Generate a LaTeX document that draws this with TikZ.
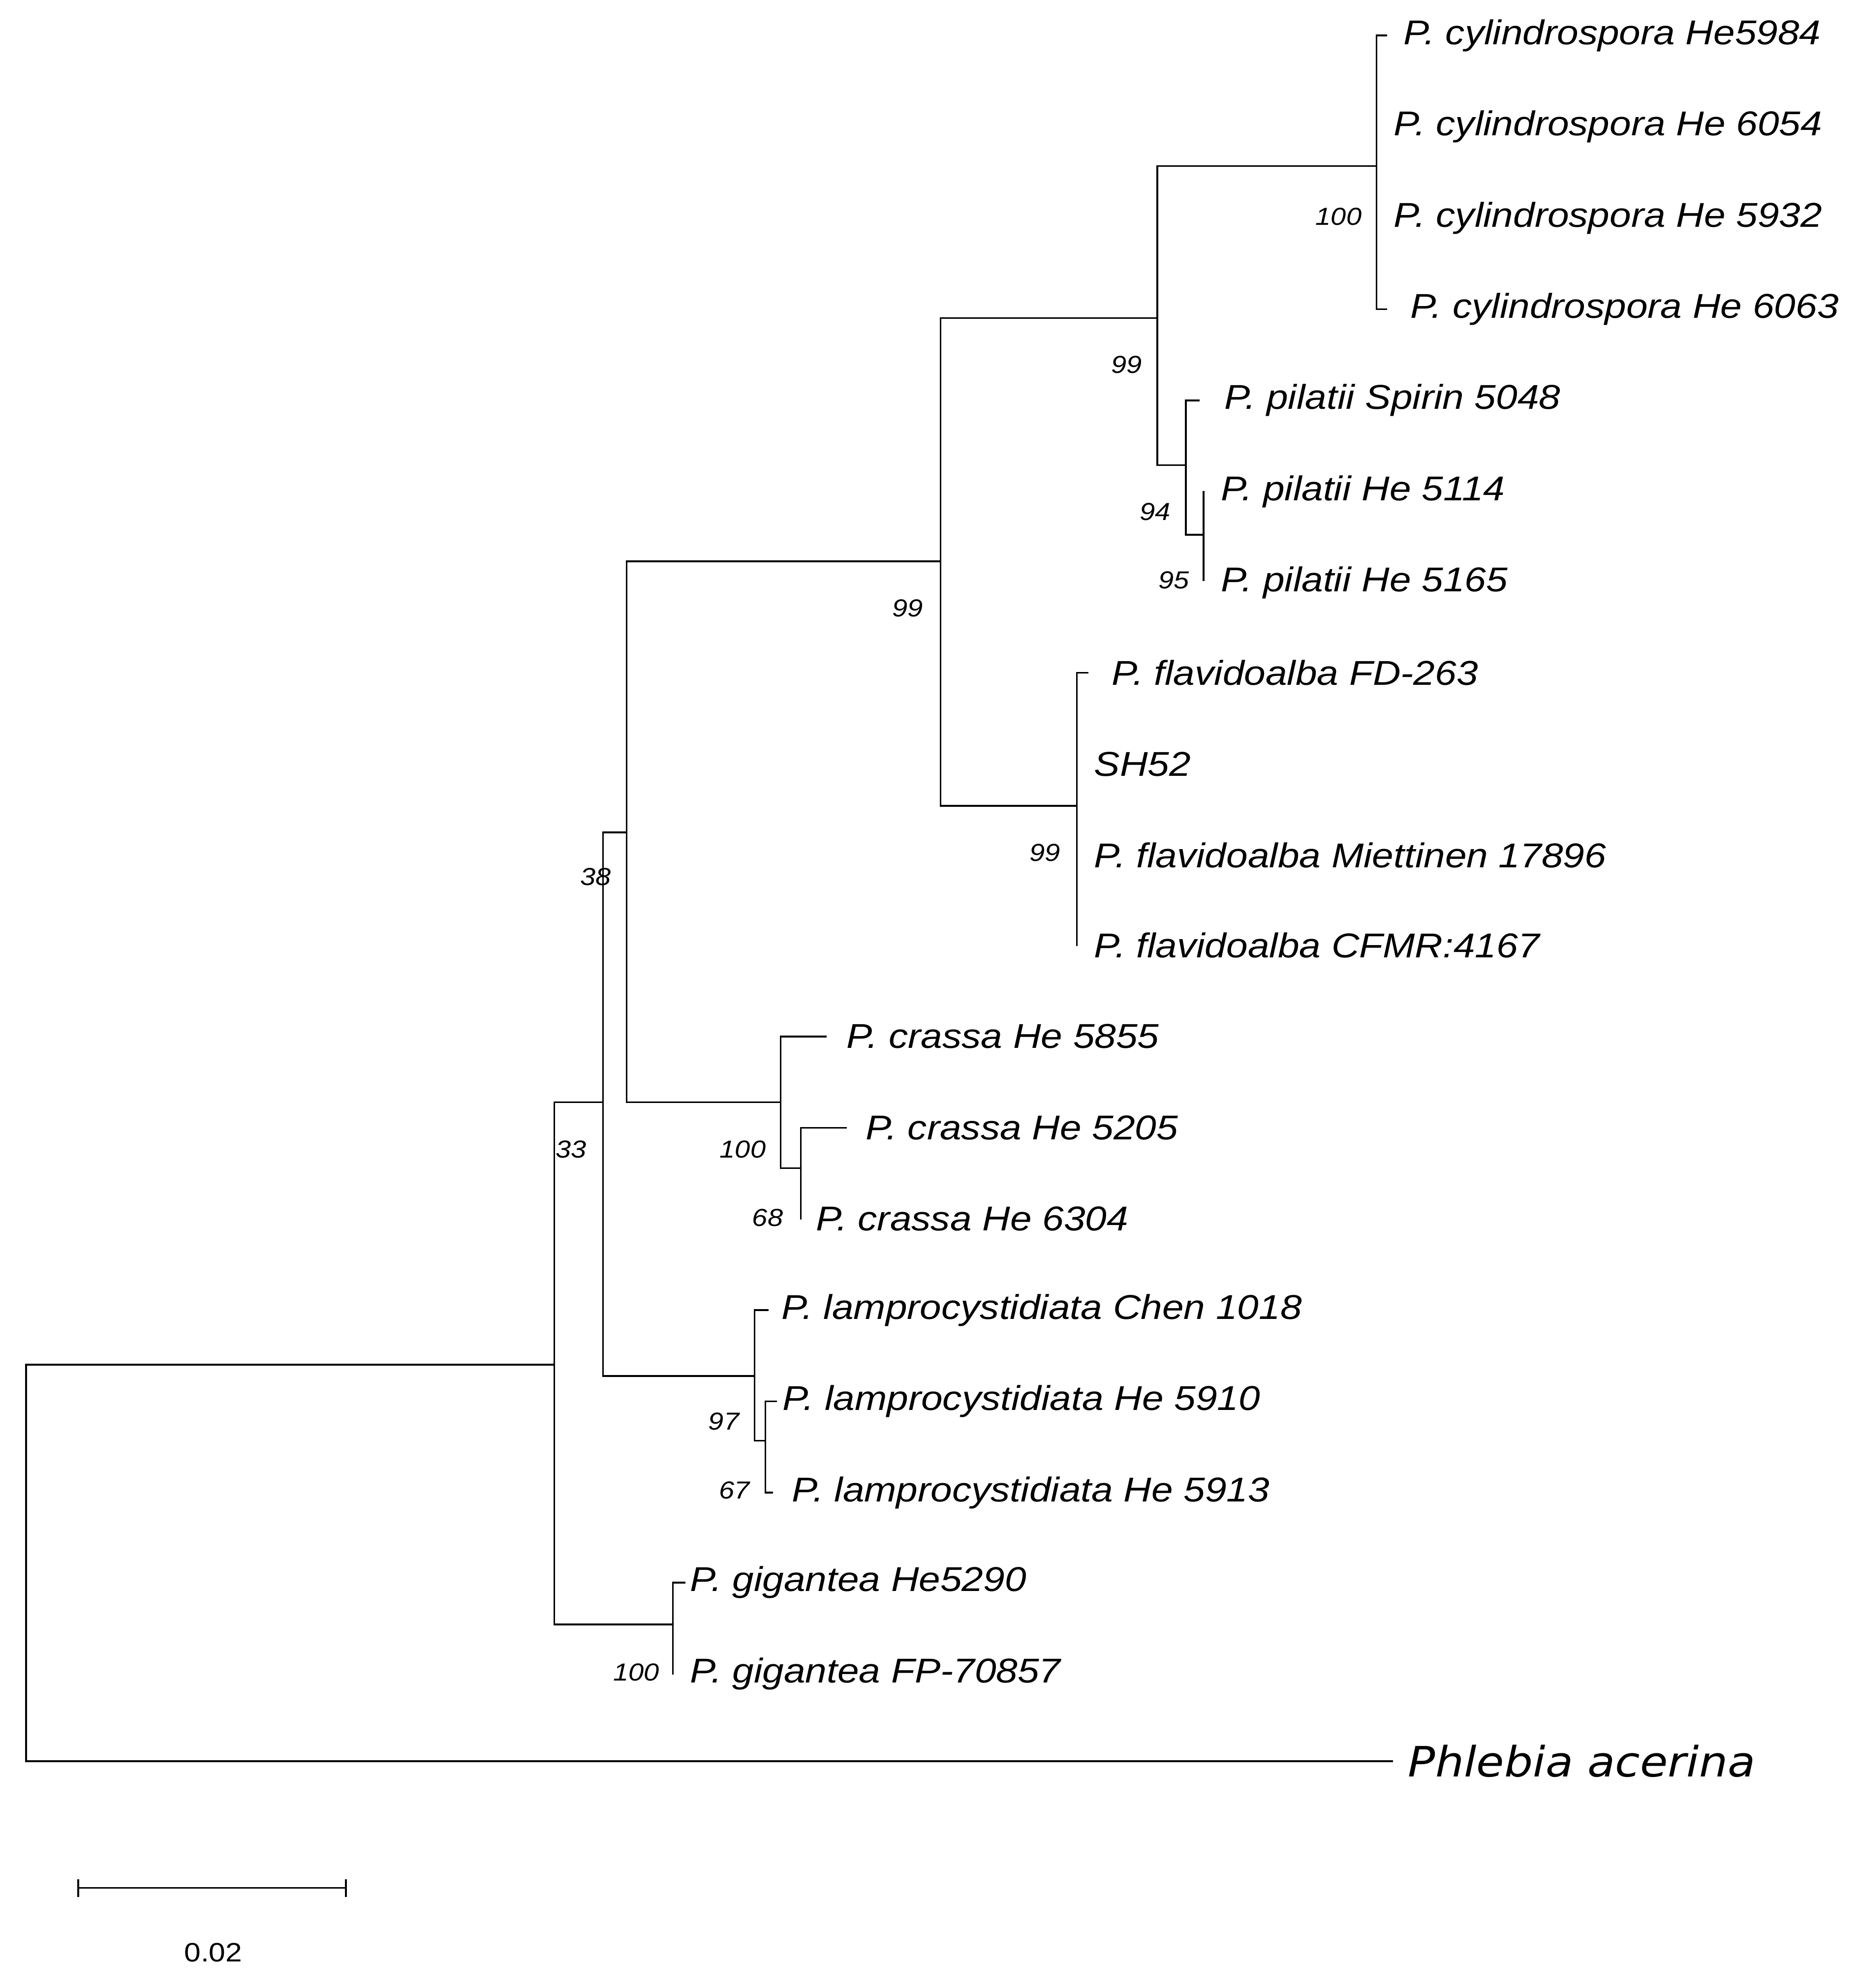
\documentclass[tikz,border=0pt]{standalone}
\usepackage{fontspec}
\setmainfont{Liberation Sans}[FakeStretch=1.12]
\newfontfamily\phfont{DejaVu Sans}[FakeStretch=1.08]
\begin{document}
\begin{tikzpicture}[x=0.24075pt,y=-0.25755pt,line width=0.34pt,
  lab/.style={anchor=west,inner sep=0,font=\fontsize{7.0}{7.5}\selectfont\itshape},
  bs/.style={inner sep=0,font=\fontsize{5.0}{5.5}\selectfont\itshape},
  br/.style={line cap=rect}]
\useasboundingbox (0,0) rectangle (1568,1569);
% internal nodes
\coordinate (R) at (22,1077);
\coordinate (A) at (468,1077);
\coordinate (G) at (568,1282);
\coordinate (B) at (509,870);
\coordinate (L) at (637,1086);
\coordinate (L2) at (646,1137);
\coordinate (C) at (529,657);
\coordinate (K) at (659,870);
\coordinate (K2) at (676,922);
\coordinate (D) at (794,443);
\coordinate (F) at (909,636);
\coordinate (E) at (977,251);
\coordinate (Y) at (1162,131);
\coordinate (P) at (1001,367);
\coordinate (P2) at (1016,422);
% leaf tips
\coordinate (t1) at (1170,28);  \coordinate (t2) at (1162,100);
\coordinate (t3) at (1162,172); \coordinate (t4) at (1170,244);
\coordinate (t5) at (1012,316); \coordinate (t6) at (1016,388);
\coordinate (t7) at (1016,458); \coordinate (t8) at (918,531);
\coordinate (t9) at (909,603);  \coordinate (t10) at (909,675);
\coordinate (t11) at (909,746); \coordinate (t12) at (697,818);
\coordinate (t13) at (714,890); \coordinate (t14) at (676,962);
\coordinate (t15) at (648,1034);\coordinate (t16) at (655,1106);
\coordinate (t17) at (652,1178);\coordinate (t18) at (578,1249);
\coordinate (t19) at (568,1321);\coordinate (t20) at (1175,1390);
% labels
\node[lab] (n1) at (1184,28) {P. cylindrospora He5984};
\node[lab] (n2) at (1176,100) {P. cylindrospora He 6054};
\node[lab] (n3) at (1176,172) {P. cylindrospora He 5932};
\node[lab] (n4) at (1190,244) {P. cylindrospora He 6063};
\node[lab] (n5) at (1033,316) {P. pilatii Spirin 5048};
\node[lab] (n6) at (1030,388) {P. pilatii He 5114};
\node[lab] (n7) at (1030,460) {P. pilatii He 5165};
\node[lab] (n8) at (938,531) {P. flavidoalba FD-263};
\node[lab] (n9) at (923,603) {SH52};
\node[lab] (n10) at (923,675) {P. flavidoalba Miettinen 17896};
\node[lab] (n11) at (923,746) {P. flavidoalba CFMR:4167};
\node[lab] (n12) at (714,818) {P. crassa He 5855};
\node[lab] (n13) at (730,890) {P. crassa He 5205};
\node[lab] (n14) at (688,962) {P. crassa He 6304};
\node[lab] (n15) at (659,1034) {P. lamprocystidiata Chen 1018};
\node[lab] (n16) at (660,1106) {P. lamprocystidiata He 5910};
\node[lab] (n17) at (668,1178) {P. lamprocystidiata He 5913};
\node[lab] (n18) at (582,1249) {P. gigantea He5290};
\node[lab] (n19) at (582,1321) {P. gigantea FP-70857};
\node[anchor=west,inner sep=0,font=\fontsize{8.5}{9}\selectfont\phfont\itshape] (n20) at (1188,1390) {Phlebia acerina};
% branches (parent |- child)
\draw[br] (R) |- (A); \draw[br] (R) |- (t20);
\draw[br] (A) |- (B); \draw[br] (A) |- (G);
\draw[br] (G) |- (t18); \draw[br] (G) |- (t19);
\draw[br] (B) |- (C); \draw[br] (B) |- (L);
\draw[br] (L) |- (t15); \draw[br] (L) |- (L2);
\draw[br] (L2) |- (t16); \draw[br] (L2) |- (t17);
\draw[br] (C) |- (D); \draw[br] (C) |- (K);
\draw[br] (K) |- (t12); \draw[br] (K) |- (K2);
\draw[br] (K2) |- (t13); \draw[br] (K2) |- (t14);
\draw[br] (D) |- (E); \draw[br] (D) |- (F);
\draw[br] (F) |- (t8); \draw[br] (F) |- (t11);
\draw[br] (E) |- (Y); \draw[br] (E) |- (P);
\draw[br] (Y) |- (t1); \draw[br] (Y) |- (t4);
\draw[br] (P) |- (t5); \draw[br] (P) |- (P2);
\draw[br] (P2) |- (t6); \draw[br] (P2) |- (t7);
% bootstrap
\node[bs] (b1) at (1130,171) {100};
\node[bs] (b2) at (951,288) {99};
\node[bs] (b3) at (975,404) {94};
\node[bs] (b4) at (991,458) {95};
\node[bs] (b5) at (766,480) {99};
\node[bs] (b6) at (882,673) {99};
\node[bs] (b7) at (503,692) {38};
\node[bs] (b8) at (482,907) {33};
\node[bs] (b9) at (627,907) {100};
\node[bs] (b10) at (648,961) {68};
\node[bs] (b11) at (611,1122) {97};
\node[bs] (b12) at (620,1176) {67};
\node[bs] (b13) at (537,1320) {100};
% scale bar
\coordinate (s1) at (66,1490); \coordinate (s2) at (292,1490);
\draw (s1) -- (s2);
\draw ([yshift=1.8pt]s1) -- ([yshift=-1.8pt]s1);
\draw ([yshift=1.8pt]s2) -- ([yshift=-1.8pt]s2);
\node[inner sep=0,font=\fontsize{5.4}{6}\selectfont] (sl) at (180,1541) {0.02};
\end{tikzpicture}
\end{document}
